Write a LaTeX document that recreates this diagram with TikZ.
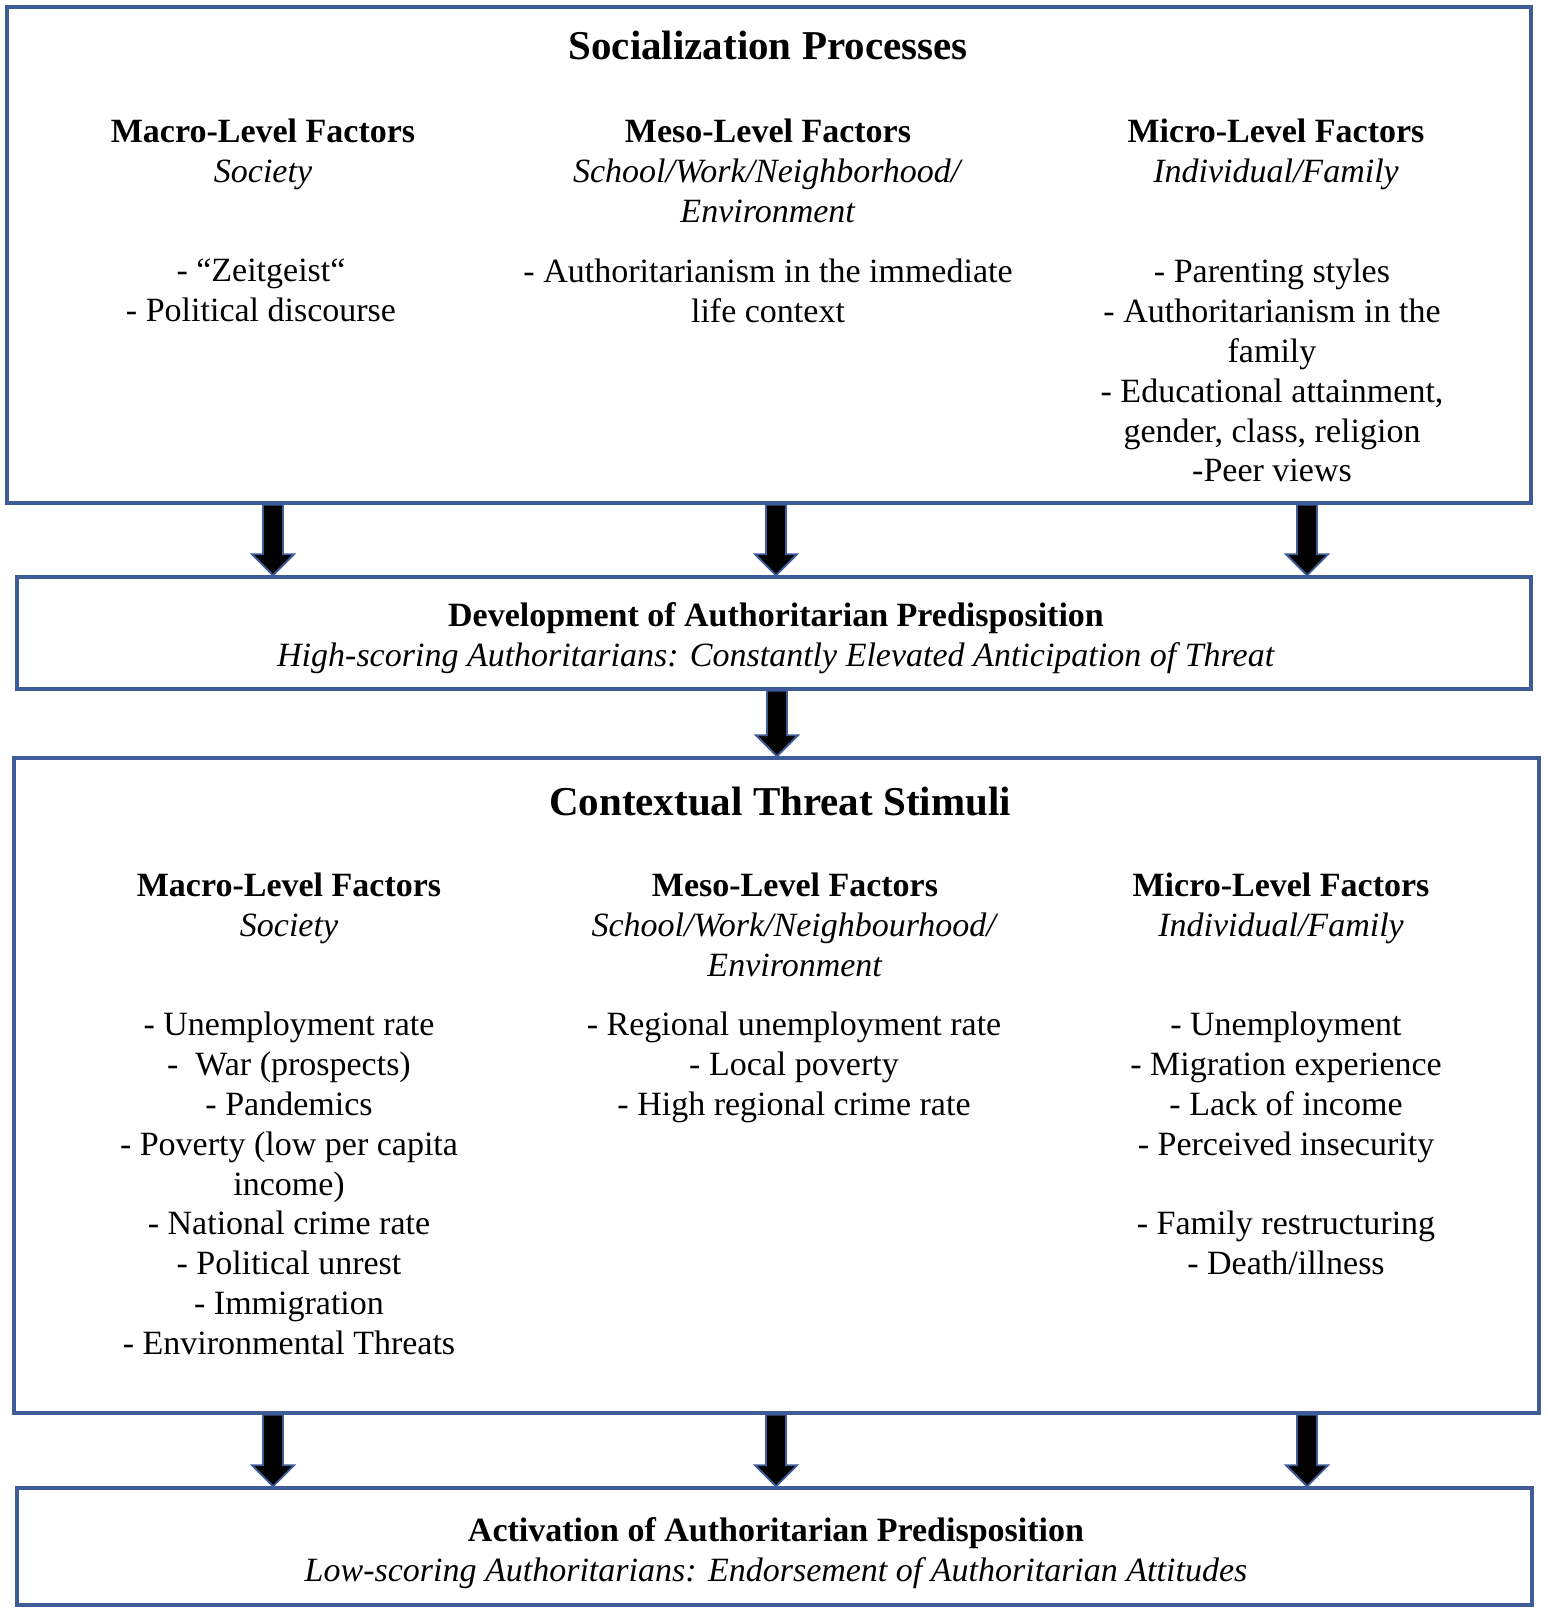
\documentclass[tikz,border=0pt]{standalone}
\usepackage{fontspec}
\setmainfont{Liberation Serif}
\usetikzlibrary{calc}
\definecolor{frameblue}{RGB}{62,92,152}
\newcommand\bodyfont{\fontsize{34}{39.8}\selectfont}
\newcommand\headfont{\fontsize{41}{48}\selectfont\bfseries}
% block arrow from the bottom of one box to the top of the next
\newcommand\blockarrow[3]{%
  \draw[arrowblock] let \p1=(#2.south), \p2=(#3.north) in
    ({#1-10},\y1) -- ({#1+10},\y1) -- ({#1+10},{\y2+21pt}) -- ({#1+21},{\y2+21pt})
    -- (#1,\y2) -- ({#1-21},{\y2+21pt}) -- ({#1-10},{\y2+21pt}) -- cycle;}

\begin{document}
\begin{tikzpicture}[x=1pt,y=-1pt,
    frame/.style={draw=frameblue,line width=3.5pt,inner sep=0pt},
    txt/.style={align=center,inner sep=0pt,anchor=north,yshift=27.86pt,font=\bodyfont,execute at begin node=\strut},
    ttl/.style={inner sep=0pt,anchor=base,font=\headfont},
    arrowblock/.style={fill=black,draw=frameblue,line width=1.8pt}]
  \useasboundingbox (0,0) rectangle (1547,1613);

  % boxes
  \node[frame,minimum width=1524,minimum height=496](soc)at(769,255){};
  \node[frame,minimum width=1514,minimum height=112](dev)at(774,633){};
  \node[frame,minimum width=1525,minimum height=655](ctx)at(776.5,1085.5){};
  \node[frame,minimum width=1515,minimum height=117](act)at(774.5,1546.5){};

  % socialization processes
  \node[ttl](socTitle)at(768,60){Socialization Processes};
  \node[txt](socMacroHead)at(263,147){\textbf{Macro-Level Factors}\\\textit{Society}};
  \node[txt](socMesoHead)at(768,147){\textbf{Meso-Level Factors}\\\textit{School/Work/Neighborhood/}\\\textit{Environment}};
  \node[txt](socMicroHead)at(1276,147){\textbf{Micro-Level Factors}\\\textit{Individual/Family}};
  \node[txt](socMacroList)at(261,287){- “Zeitgeist“\\- Political discourse};
  \node[txt](socMesoList)at(768,287){- Authoritarianism in the immediate\\life context};
  \node[txt](socMicroList)at(1272,287){- Parenting styles\\- Authoritarianism in the\\family\\- Educational attainment,\\gender, class, religion\\-Peer views};

  % development
  \node[txt](devText)at(776,630){\textbf{Development of Authoritarian Predisposition}\\\textit{High-scoring Authoritarians: Constantly Elevated Anticipation of Threat}};

  % contextual threat stimuli
  \node[ttl](ctxTitle)at(780,815){Contextual Threat Stimuli};
  \node[txt](ctxMacroHead)at(289,901){\textbf{Macro-Level Factors}\\\textit{Society}};
  \node[txt](ctxMesoHead)at(795,901){\textbf{Meso-Level Factors}\\\textit{School/Work/Neighbourhood/}\\\textit{Environment}};
  \node[txt](ctxMicroHead)at(1281,901){\textbf{Micro-Level Factors}\\\textit{Individual/Family}};
  \node[txt](ctxMacroList)at(289,1040){- Unemployment rate\\-\ \ War (prospects)\\- Pandemics\\- Poverty (low per capita\\income)\\- National crime rate\\- Political unrest\\- Immigration\\- Environmental Threats};
  \node[txt](ctxMesoList)at(794,1040){- Regional unemployment rate\\- Local poverty\\- High regional crime rate};
  \node[txt](ctxMicroList)at(1286,1040){- Unemployment\\- Migration experience\\- Lack of income\\- Perceived insecurity\\[39.8pt]- Family restructuring\\- Death/illness};

  % activation
  \node[txt](actText)at(776,1545){\textbf{Activation of Authoritarian Predisposition}\\\textit{Low-scoring Authoritarians: Endorsement of Authoritarian Attitudes}};

  % arrows
  \foreach \ax in {273,776,1307} {\blockarrow{\ax}{soc}{dev}}
  \blockarrow{777}{dev}{ctx}
  \foreach \ax in {273,776,1307} {\blockarrow{\ax}{ctx}{act}}
\end{tikzpicture}
\end{document}
